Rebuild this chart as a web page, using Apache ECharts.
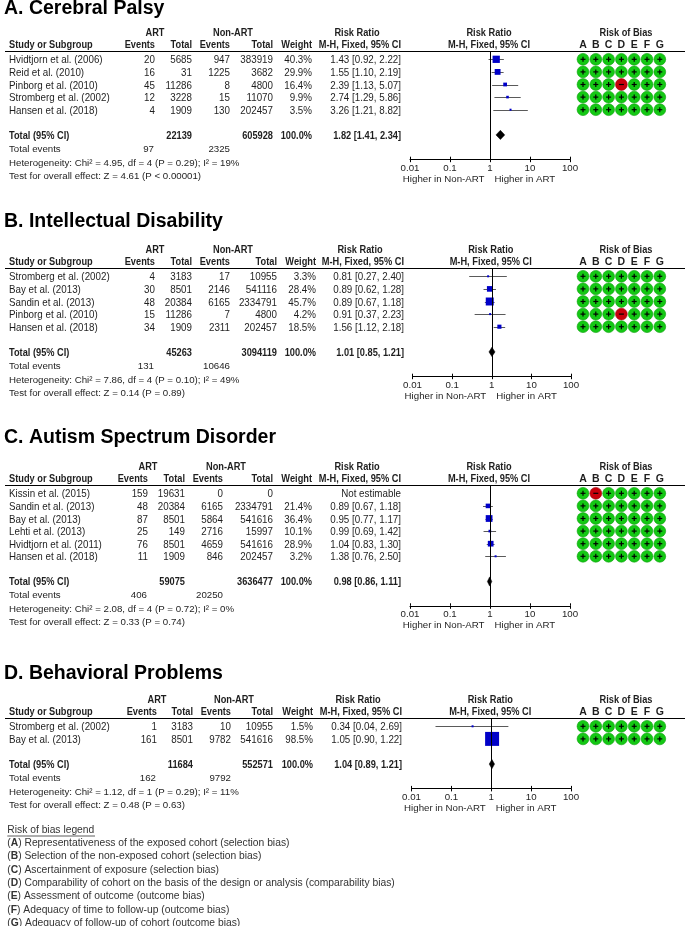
<!DOCTYPE html>
<html><head><meta charset="utf-8">
<script src="https://cdn.jsdelivr.net/npm/echarts@6/dist/echarts.min.js"></script>
<style>html,body{margin:0;padding:0;background:#fff}#c{width:685px;height:926px}</style>
</head><body><div id="c"></div>
<script>
// ---------------- DATA ----------------
const panelTitles = ['A. Cerebral Palsy', 'B. Intellectual Disability', 'C. Autism Spectrum Disorder', 'D. Behavioral Problems'];
const biasLetters = ['A', 'B', 'C', 'D', 'E', 'F', 'G'];
const tickLabels = ['0.01', '0.1', '1', '10', '100'];

// A. Cerebral Palsy
const cpStudies = ['Hvidtjorn et al. (2006)', 'Reid et al. (2010)', 'Pinborg et al. (2010)', 'Stromberg et al. (2002)', 'Hansen et al. (2018)'];
const cpArtEvents = [20, 16, 45, 12, 4];
const cpArtTotal = [5685, 31, 11286, 3228, 1909];
const cpNonEvents = [947, 1225, 8, 15, 130];
const cpNonTotal = [383919, 3682, 4800, 11070, 202457];
const cpWeight = [40.3, 29.9, 16.4, 9.9, 3.5];
const cpRR = [1.43, 1.55, 2.39, 2.74, 3.26];
const cpLo = [0.92, 1.10, 1.13, 1.29, 1.21];
const cpHi = [2.22, 2.19, 5.07, 5.86, 8.82];
const cpBias = ['+++++++', '+++++++', '+++-+++', '+++++++', '+++++++'];

// B. Intellectual Disability
const idStudies = ['Stromberg et al. (2002)', 'Bay et al. (2013)', 'Sandin et al. (2013)', 'Pinborg et al. (2010)', 'Hansen et al. (2018)'];
const idArtEvents = [4, 30, 48, 15, 34];
const idArtTotal = [3183, 8501, 20384, 11286, 1909];
const idNonEvents = [17, 2146, 6165, 7, 2311];
const idNonTotal = [10955, 541116, 2334791, 4800, 202457];
const idWeight = [3.3, 28.4, 45.7, 4.2, 18.5];
const idRR = [0.81, 0.89, 0.89, 0.91, 1.56];
const idLo = [0.27, 0.62, 0.67, 0.37, 1.12];
const idHi = [2.40, 1.28, 1.18, 2.23, 2.18];
const idBias = ['+++++++', '+++++++', '+++++++', '+++-+++', '+++++++'];

// C. Autism Spectrum Disorder
const asdStudies = ['Kissin et al. (2015)', 'Sandin et al. (2013)', 'Bay et al. (2013)', 'Lehti et al. (2013)', 'Hvidtjorn et al. (2011)', 'Hansen et al. (2018)'];
const asdArtEvents = [159, 48, 87, 25, 76, 11];
const asdArtTotal = [19631, 20384, 8501, 149, 8501, 1909];
const asdNonEvents = [0, 6165, 5864, 2716, 4659, 846];
const asdNonTotal = [0, 2334791, 541616, 15997, 541616, 202457];
const asdWeight = [null, 21.4, 36.4, 10.1, 28.9, 3.2];
const asdRR = [null, 0.89, 0.95, 0.99, 1.04, 1.38];
const asdLo = [null, 0.67, 0.77, 0.69, 0.83, 0.76];
const asdHi = [null, 1.18, 1.17, 1.42, 1.30, 2.50];
const asdBias = ['+-+++++', '+++++++', '+++++++', '+++++++', '+++++++', '+++++++'];

// D. Behavioral Problems
const bpStudies = ['Stromberg et al. (2002)', 'Bay et al. (2013)'];
const bpArtEvents = [1, 161];
const bpArtTotal = [3183, 8501];
const bpNonEvents = [10, 9782];
const bpNonTotal = [10955, 541616];
const bpWeight = [1.5, 98.5];
const bpRR = [0.34, 1.05];
const bpLo = [0.04, 0.90];
const bpHi = [2.69, 1.22];
const bpBias = ['+++++++', '+++++++'];

// pooled results per panel (A, B, C, D)
const totalRR = [1.82, 1.01, 0.98, 1.04];
const totalLo = [1.41, 0.85, 0.86, 0.89];
const totalHi = [2.34, 1.21, 1.11, 1.21];
const hetChi2 = ['4.95', '7.86', '2.08', '1.12'];
const hetDf = [4, 4, 4, 1];
const hetP = ['0.29', '0.10', '0.72', '0.29'];
const hetI2 = [19, 49, 0, 11];
const testZ = ['4.61', '0.14', '0.33', '0.48'];
const testP = ['< 0.00001', '= 0.89', '= 0.74', '= 0.63'];

const legendItems = [
  'Representativeness of the exposed cohort (selection bias)',
  'Selection of the non-exposed cohort (selection bias)',
  'Ascertainment of exposure (selection bias)',
  'Comparability of cohort on the basis of the design or analysis (comparability bias)',
  'Assessment of outcome (outcome bias)',
  'Adequacy of time to follow-up (outcome bias)',
  'Adequacy of follow-up of cohort (outcome bias)'
];

// ---------------- BUILD ----------------
const panels = [
  {studies: cpStudies, ae: cpArtEvents, at: cpArtTotal, ne: cpNonEvents, nt: cpNonTotal, w: cpWeight, rr: cpRR, lo: cpLo, hi: cpHi, bias: cpBias},
  {studies: idStudies, ae: idArtEvents, at: idArtTotal, ne: idNonEvents, nt: idNonTotal, w: idWeight, rr: idRR, lo: idLo, hi: idHi, bias: idBias},
  {studies: asdStudies, ae: asdArtEvents, at: asdArtTotal, ne: asdNonEvents, nt: asdNonTotal, w: asdWeight, rr: asdRR, lo: asdLo, hi: asdHi, bias: asdBias},
  {studies: bpStudies, ae: bpArtEvents, at: bpArtTotal, ne: bpNonEvents, nt: bpNonTotal, w: bpWeight, rr: bpRR, lo: bpLo, hi: bpHi, bias: bpBias}
];
const layout = [
  {L: 51, tdy: 43, cols: [155, 192, 230, 273, 312, 401], pl: 410, pr: 570},
  {L: 268, tdy: 47, cols: [155, 192, 230, 277, 316, 404], pl: 412.5, pr: 571},
  {L: 485, tdy: 48, cols: [148, 185, 223, 273, 312, 401], pl: 410, pr: 570},
  {L: 718, tdy: 45, cols: [157, 193, 231, 273, 313, 402], pl: 411.5, pr: 571}
];
const RH = 12.6, ROW0 = 8.3, AXG = 24.3, TY = 1;
const FF = "'Liberation Sans', Arial, sans-serif";
const INK = '#1e1e1e';
const NORMAL = {fontSize: 11, sx: 0.89};
const BOLD = {fontSize: 10.5, fontWeight: 'bold', sx: 0.88};
const FOOT = {fontSize: 9.7, sx: 1};

function T(x, y, text, f, align, extra) {
  return {
    type: 'text', x: x, y: y + TY, scaleX: f.sx || 1, silent: true, z: 10,
    style: Object.assign({
      text: text, x: 0, y: 0, align: align || 'left', verticalAlign: 'middle',
      fontSize: f.fontSize, fontWeight: f.fontWeight || 'normal', fontFamily: FF, fill: f.color || INK
    }, extra || {})
  };
}
const fmt2 = v => v.toFixed(2);
const rrText = (r, l, h) => fmt2(r) + ' [' + fmt2(l) + ', ' + fmt2(h) + ']';
const sum = a => a.reduce((s, v) => s + v, 0);

const grids = [], xAxes = [], yAxes = [], series = [], gfx = [];

panels.forEach((p, k) => {
  const lay = layout[k], L = lay.L, c = lay.cols;
  const n = p.studies.length;
  const rowY = i => L + ROW0 + i * RH;
  const totY = rowY(n + 1);
  const axisY = totY + AXG;
  const gridH = axisY - L;
  const yMin = -ROW0 / RH, yMax = n + 1 + AXG / RH;
  const mid = (lay.pl + lay.pr) / 2;
  const oneX = lay.pl + (lay.pr - lay.pl) / 2;

  const g0 = grids.length;
  grids.push({left: lay.pl, top: L, width: lay.pr - lay.pl, height: gridH});
  grids.push({left: 576.6, top: L, width: 89.6, height: gridH});
  grids.push({left: lay.pl, top: L, width: lay.pr - lay.pl, height: gridH});

  const x0 = xAxes.length;
  xAxes.push({
    type: 'log', logBase: 10, min: 0.01, max: 100, splitNumber: 4, gridIndex: g0, position: 'bottom',
    axisLine: {show: true, onZero: false, lineStyle: {color: '#000', width: 1}},
    axisTick: {show: true, length: 3, lineStyle: {color: '#000', width: 1}},
    minorTick: {show: false}, splitLine: {show: false},
    axisLabel: {margin: 4, fontSize: 9.7, fontFamily: FF, color: INK,
      formatter: v => tickLabels[Math.round(Math.log10(v)) + 2]}
  });
  xAxes.push({
    type: 'category', data: biasLetters, gridIndex: g0 + 1, position: 'top',
    axisLine: {show: false, onZero: false}, axisTick: {show: false}, splitLine: {show: false},
    axisLabel: {margin: 5.5, verticalAlign: 'middle', fontSize: 10.5, fontWeight: 'bold', fontFamily: FF, color: INK, interval: 0}
  });
  xAxes.push({
    type: 'log', logBase: 10, min: 0.01, max: 100, splitNumber: 4, gridIndex: g0 + 2, position: 'bottom',
    axisLine: {show: false, onZero: false}, axisLabel: {show: false}, splitLine: {show: false}, minorTick: {show: false},
    axisTick: {show: true, inside: true, length: 2.5, lineStyle: {color: '#000', width: 1}}
  });
  const y0 = yAxes.length;
  for (let j = 0; j < 3; j++) {
    yAxes.push({type: 'value', gridIndex: g0 + j, inverse: true, min: yMin, max: yMax, show: false,
      axisLine: {onZero: false}});
  }

  // forest series
  const fdata = [];
  for (let i = 0; i < n; i++) {
    if (p.rr[i] != null) fdata.push([p.rr[i], p.lo[i], p.hi[i], i, p.w[i], 0]);
  }
  fdata.push([totalRR[k], totalLo[k], totalHi[k], n + 1, 100, 1]);
  series.push({
    type: 'custom', xAxisIndex: x0, yAxisIndex: y0, data: fdata, silent: true, animation: false, clip: false,
    renderItem: function (params, api) {
      const r = api.value(0), lo = api.value(1), hi = api.value(2), row = api.value(3), w = api.value(4), kind = api.value(5);
      const cc = api.coord([r, row]), a = api.coord([lo, row]), b = api.coord([hi, row]);
      const y = Math.round(cc[1]) + 0.5;
      if (kind === 1) {
        const h = 4.6;
        return {type: 'polygon', shape: {points: [[a[0], cc[1]], [cc[0], cc[1] - h], [b[0], cc[1]], [cc[0], cc[1] + h]]},
          style: {fill: '#000', stroke: '#000', lineWidth: 0.5}};
      }
      const s = Math.max(2, 0.49 * Math.pow(w, 0.73));
      return {type: 'group', children: [
        {type: 'line', shape: {x1: a[0], y1: y, x2: b[0], y2: y}, style: {stroke: '#5a5a5a', lineWidth: 1}},
        {type: 'rect', shape: {x: cc[0] - s / 2, y: cc[1] - s / 2, width: s, height: s}, style: {fill: '#0000c8'}}
      ]};
    },
    markLine: {silent: true, symbol: ['none', 'none'], label: {show: false}, animation: false,
      lineStyle: {color: '#000', width: 1, type: 'solid'}, data: [{xAxis: 1}]}
  });

  // bias series
  const bdata = [];
  p.bias.forEach((row, i) => {
    for (let j = 0; j < row.length; j++) bdata.push([j, i, row[j] === '-' ? 0 : 1]);
  });
  series.push({
    type: 'custom', xAxisIndex: x0 + 1, yAxisIndex: y0 + 1, data: bdata, silent: true, animation: false,
    renderItem: function (params, api) {
      const cc = api.coord([api.value(0), api.value(1)]);
      const ok = api.value(2) === 1;
      const kids = [{type: 'circle', shape: {cx: cc[0], cy: cc[1], r: 5.9},
        style: {fill: ok ? '#14c814' : '#c8000c', stroke: ok ? '#0aa00a' : '#a00008', lineWidth: 0.6}}];
      kids.push({type: 'rect', shape: {x: cc[0] - 2.5, y: cc[1] - 0.6, width: 5, height: 1.2}, style: {fill: '#000'}});
      if (ok) kids.push({type: 'rect', shape: {x: cc[0] - 0.6, y: cc[1] - 2.5, width: 1.2, height: 5}, style: {fill: '#000'}});
      return {type: 'group', children: kids};
    }
  });

  // --- table text ---
  gfx.push(T(4, L - lay.tdy, panelTitles[k], {fontSize: 19.5, fontWeight: 'bold', color: '#000'}, 'left'));
  const h1 = L - 19, h2 = L - 6.5;
  gfx.push(T(c[0], h1, 'ART', BOLD, 'center'));
  gfx.push(T(c[2] + 3, h1, 'Non-ART', BOLD, 'center'));
  gfx.push(T(c[5] - 44, h1, 'Risk Ratio', BOLD, 'center'));
  gfx.push(T(mid - 1, h1, 'Risk Ratio', BOLD, 'center'));
  gfx.push(T(626, h1, 'Risk of Bias', BOLD, 'center'));
  gfx.push(T(9, h2, 'Study or Subgroup', BOLD, 'left'));
  gfx.push(T(c[0], h2, 'Events', BOLD, 'right'));
  gfx.push(T(c[1], h2, 'Total', BOLD, 'right'));
  gfx.push(T(c[2], h2, 'Events', BOLD, 'right'));
  gfx.push(T(c[3], h2, 'Total', BOLD, 'right'));
  gfx.push(T(c[4], h2, 'Weight', BOLD, 'right'));
  gfx.push(T(c[5], h2, 'M-H, Fixed, 95% CI', BOLD, 'right'));
  gfx.push(T(mid - 1, h2, 'M-H, Fixed, 95% CI', BOLD, 'center'));
  gfx.push({type: 'line', silent: true, shape: {x1: 5, y1: L + 0.5, x2: 685, y2: L + 0.5}, style: {stroke: '#000', lineWidth: 1}});

  for (let i = 0; i < n; i++) {
    const y = rowY(i);
    gfx.push(T(9, y, p.studies[i], NORMAL, 'left'));
    gfx.push(T(c[0], y, String(p.ae[i]), NORMAL, 'right'));
    gfx.push(T(c[1], y, String(p.at[i]), NORMAL, 'right'));
    gfx.push(T(c[2], y, String(p.ne[i]), NORMAL, 'right'));
    gfx.push(T(c[3], y, String(p.nt[i]), NORMAL, 'right'));
    if (p.w[i] != null) gfx.push(T(c[4], y, p.w[i].toFixed(1) + '%', NORMAL, 'right'));
    gfx.push(T(c[5], y, p.rr[i] != null ? rrText(p.rr[i], p.lo[i], p.hi[i]) : 'Not estimable', NORMAL, 'right'));
  }
  gfx.push(T(9, totY, 'Total (95% CI)', BOLD, 'left'));
  gfx.push(T(c[1], totY, String(sum(p.at)), BOLD, 'right'));
  gfx.push(T(c[3], totY, String(sum(p.nt)), BOLD, 'right'));
  gfx.push(T(c[4], totY, '100.0%', BOLD, 'right'));
  gfx.push(T(c[5], totY, rrText(totalRR[k], totalLo[k], totalHi[k]), BOLD, 'right'));

  gfx.push(T(9, totY + 13.3, 'Total events', FOOT, 'left'));
  gfx.push(T(c[0] - 1, totY + 13.3, String(sum(p.ae)), FOOT, 'right'));
  gfx.push(T(c[2], totY + 13.3, String(sum(p.ne)), FOOT, 'right'));
  gfx.push(T(9, totY + 27, 'Heterogeneity: Chi\u00b2 = ' + hetChi2[k] + ', df = ' + hetDf[k] + ' (P = ' + hetP[k] + '); I\u00b2 = ' + hetI2[k] + '%', FOOT, 'left'));
  gfx.push(T(9, totY + 40, 'Test for overall effect: Z = ' + testZ[k] + ' (P ' + testP[k] + ')', FOOT, 'left'));

  gfx.push(T(oneX - 5.5, axisY + 19, 'Higher in Non-ART', FOOT, 'right'));
  gfx.push(T(oneX + 4.5, axisY + 19, 'Higher in ART', FOOT, 'left'));
});

// legend
const LG = {fontSize: 10.3, color: '#333'};
gfx.push(T(7.3, 829, 'Risk of bias legend', LG, 'left'));
gfx.push({type: 'line', silent: true, shape: {x1: 7.3, y1: 836, x2: 95, y2: 836}, style: {stroke: '#333', lineWidth: 0.8}});
legendItems.forEach((txt, i) => {
  gfx.push(T(7.3, 842 + i * 13.35, '({b|' + biasLetters[i] + '}) ' + txt, LG, 'left',
    {rich: {b: {fontWeight: 'bold', fontSize: 10.3, fontFamily: FF, fill: '#333'}}}));
});

const chart = echarts.init(document.getElementById('c'), null, {renderer: 'canvas'});
chart.setOption({
  animation: false,
  backgroundColor: '#fff',
  grid: grids,
  xAxis: xAxes,
  yAxis: yAxes,
  series: series,
  graphic: {elements: gfx}
});
</script></body></html>
